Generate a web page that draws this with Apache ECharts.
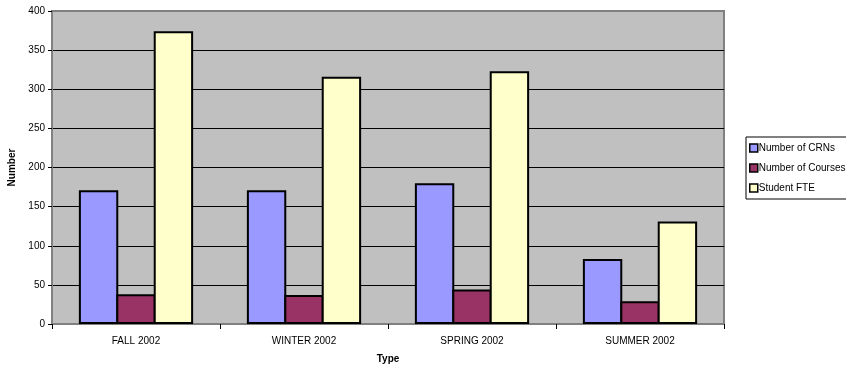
<!DOCTYPE html>
<html>
<head>
<meta charset="utf-8">
<script src="https://cdn.jsdelivr.net/npm/echarts@6/dist/echarts.min.js"></script>
<style>html,body{margin:0;padding:0;background:#fff}#c{width:846px;height:366px}</style>
</head>
<body>
<div id="c"></div>
<script>
const categories = ['FALL 2002', 'WINTER 2002', 'SPRING 2002', 'SUMMER 2002'];
const seriesNames = ['Number of CRNs', 'Number of Courses', 'Student FTE'];
const crns = [171, 171, 180, 83];
const courses = [38, 37, 44, 29];
const fte = [374, 316, 323, 131];
const colors = ['#9999FF', '#993366', '#FFFFCC'];

const font = 'Liberation Sans, Arial, sans-serif';
const chart = echarts.init(document.getElementById('c'), null, {renderer: 'canvas'});
const values = [crns, courses, fte];
chart.setOption({
  animation: false,
  textStyle: {fontFamily: font},
  grid: {left: 52, right: 122, top: 11, bottom: 42, show: true, outerBoundsMode: 'none', containLabel: false,
         backgroundColor: '#C0C0C0', borderColor: '#808080', borderWidth: 2},
  legend: {
    orient: 'vertical', left: 746, top: 137, itemWidth: 8, itemHeight: 8,
    itemGap: 10, padding: [6, 6, 6, 3], borderColor: '#000', borderWidth: 1,
    backgroundColor: '#fff', icon: 'rect',
    itemStyle: {borderColor: '#000', borderWidth: 1.5},
    textStyle: {fontFamily: font, fontSize: 10, color: '#000', padding: [0, 0, 0, -4]},
    data: seriesNames
  },
  xAxis: {
    type: 'category', data: categories, name: 'Type', nameLocation: 'middle', nameGap: 30,
    nameTextStyle: {fontFamily: font, fontSize: 10, fontWeight: 'bold', color: '#000'},
    axisLine: {lineStyle: {color: '#808080', width: 2}},
    axisTick: {show: true, length: 5, lineStyle: {color: '#000'}},
    axisLabel: {fontFamily: font, fontSize: 10, color: '#000', margin: 12}
  },
  yAxis: {
    type: 'value', min: 0, max: 400, interval: 50, name: 'Number', nameLocation: 'middle', nameGap: 35,
    nameTextStyle: {fontFamily: font, fontSize: 10, fontWeight: 'bold', color: '#000'},
    axisLine: {show: true, lineStyle: {color: '#808080', width: 2}},
    axisTick: {show: true, length: 4, lineStyle: {color: '#000'}},
    axisLabel: {fontFamily: font, fontSize: 10, color: '#000', margin: 7},
    splitLine: {lineStyle: {color: ['#808080', '#000', '#000', '#000', '#000', '#000', '#000', '#000', '#808080'], width: 1}}
  },
  series: seriesNames.map((n, i) => ({
    name: n, type: 'bar', data: values[i], barGap: '-5%', barCategoryGap: '32%',
    itemStyle: {color: colors[i], borderColor: '#000', borderWidth: 2}
  }))
});
</script>
</body>
</html>
